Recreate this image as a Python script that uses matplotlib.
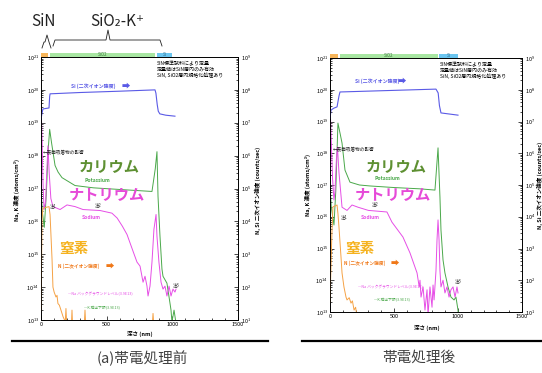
import matplotlib
matplotlib.use("Agg")
import matplotlib.pyplot as plt
import matplotlib.transforms as mtransforms
from matplotlib.lines import Line2D
from matplotlib.patches import Rectangle
from matplotlib.ticker import MultipleLocator, LogLocator
import numpy as np

plt.rcParams['font.family'] = ['Noto Sans CJK JP', 'DejaVu Sans']

# ---- data (depth in nm, values as log10) ----
# (a) before treatment
si_a_depth = [0, 8, 15, 61, 66, 69, 300, 600, 868, 875, 885, 893, 905, 950, 1020]
si_a_log = [7.1, 7.3, 7.42, 7.45, 7.8, 7.88, 7.92, 7.96, 8.0, 7.9, 7.55, 7.35, 7.27, 7.23, 7.2]

k_a_depth = [0, 10, 25, 40, 55, 66, 80, 107, 130, 160, 259, 400, 600, 845, 870, 883,
             891, 906, 921, 929, 959, 975, 990, 997, 1013, 1028]
k_a_log = [17.0, 16.3, 15.82, 16.8, 18.2, 18.8, 18.4, 17.7, 17.5, 17.33, 17.09, 17.02,
           16.97, 16.91, 17.6, 18.12, 16.76, 15.55, 14.55, 14.33, 14.12, 13.7, 13.3,
           12.94, 13.3, 12.9]

na_a_depth = [0, 8, 15, 23, 35, 45, 53, 62, 75, 91, 145, 198, 259, 320, 450, 540, 580,
              620, 655, 700, 731, 754, 777, 792, 807, 815, 830, 845, 860, 876, 883, 898,
              914, 929, 944, 959, 975, 990, 1005, 1020, 1028]
na_a_log = [19.6, 18.5, 17.2, 16.36, 16.6, 17.6, 18.3, 17.5, 16.7, 16.45, 16.36, 16.5,
            16.45, 16.36, 16.33, 16.25, 16.1, 15.85, 15.6, 15.1, 14.76, 14.64, 14.15,
            14.33, 14.03, 13.73, 14.03, 14.76, 15.76, 16.21, 15.55, 14.76, 14.15, 13.94,
            14.03, 13.73, 14.03, 13.73, 13.94, 13.85, 13.94]

n_a_depth = [0, 8, 15, 61, 69, 84, 91, 100, 114, 122, 129, 140, 152, 168, 185, 190, 195,
             200, 232, 236, 240, 330, 335, 340, 848, 853, 858]
n_a_log = [1.3, 4.1, 4.4, 4.45, 4.2, 2.85, 2.0, 1.85, 1.7, 1.75, 1.5, 1.45, 1.3, 1.1,
           0.95, 1.35, 0.95, 0.9, 0.9, 1.3, 0.9, 0.9, 1.3, 0.9, 0.9, 1.2, 0.9]

# (b) after treatment
si_b_depth = [0, 8, 30, 55, 70, 78, 828, 845, 855, 867, 1000]
si_b_log = [7.1, 7.36, 7.42, 7.46, 7.8, 7.93, 8.02, 7.9, 7.5, 7.27, 7.2]

k_b_depth = [0, 10, 31, 45, 62, 80, 94, 117, 156, 230, 312, 500, 700, 820, 844, 859,
             867, 883, 898, 922, 945, 969, 984, 1000, 1004]
k_b_log = [17.0, 16.3, 15.74, 16.8, 18.95, 18.6, 18.32, 17.47, 17.09, 17.0, 16.97,
           16.92, 16.88, 16.84, 18.17, 16.62, 15.58, 14.64, 14.23, 13.79, 13.47, 13.38,
           13.47, 13.06, 12.8]

na_b_depth = [0, 8, 20, 31, 39, 50, 58, 70, 94, 133, 172, 219, 300, 445, 484, 570, 625,
              680, 697, 703, 711, 727, 742, 758, 766, 781, 797, 805, 813, 828, 836, 844,
              852, 859, 867, 883, 898, 914, 930, 945, 961, 977, 992, 1000]
na_b_log = [19.6, 18.6, 17.2, 16.53, 16.8, 17.8, 18.2, 17.4, 16.3, 16.2, 16.37, 16.3,
            16.2, 16.15, 15.83, 15.36, 14.86, 14.23, 13.79, 14.0, 13.47, 13.79, 13.06,
            13.7, 12.9, 13.79, 13.15, 13.85, 13.38, 14.3, 15.27, 15.9, 15.27, 14.3,
            13.79, 14.0, 13.6, 13.79, 13.47, 13.7, 13.79, 13.47, 13.79, 13.6]

n_b_depth = [0, 15, 23, 55, 62, 70, 86, 94, 109, 125, 133, 150, 164, 175, 188, 200, 211, 225]
n_b_log = [1.3, 3.5, 4.31, 4.37, 4.1, 3.68, 2.73, 2.23, 1.79, 1.47, 1.38, 1.45, 1.28,
           1.35, 1.06, 1.15, 0.85, 0.8]

# layer bars (start, end in nm)
layers_a = [(0, 55, '#f7b55a', ''), (70, 870, '#a8e6a2', 'SiO2'), (885, 1000, '#6cc6f0', 'Si')]
layers_b = [(0, 62, '#f7b55a', ''), (78, 840, '#a8e6a2', 'SiO2'), (852, 1000, '#6cc6f0', 'Si')]

note_lines = "SiN標準試料により定量\n定量値はSiN層内のみ有効\nSiN, SiO2層内規格化処理あり"

W, H = 542, 373
fig = plt.figure(figsize=(W / 100, H / 100), dpi=100)


def fx(px):
    return px / W


def fy(py):
    return 1 - py / H


C_SI = '#5a5ae6'
C_K = '#4aa84a'
C_NA = '#e64ee6'
C_N = '#f5a245'


def make_panel(box, data, layers):
    x0, y0, x1, y1 = box
    ax = fig.add_axes([fx(x0), fy(y1), (x1 - x0) / W, (y1 - y0) / H])
    ax.set_xlim(0, 1500)
    ax.set_yscale('log')
    ax.set_ylim(1e13, 1e21)
    tw = ax.twinx()
    tw.set_yscale('log')
    tw.set_ylim(1e1, 1e9)
    (sd, sl), (kd, kl), (nd, nl), (Nd, Nl) = data
    ax.plot(kd, 10 ** np.array(kl), color=C_K, lw=0.7)
    ax.plot(nd, 10 ** np.array(nl), color=C_NA, lw=0.7)
    tw.plot(Nd, 10 ** np.array(Nl), color=C_N, lw=0.7)
    tw.plot(sd, 10 ** np.array(sl), color=C_SI, lw=0.8)
    for a in (ax, tw):
        a.tick_params(which='both', direction='in', labelsize=4, pad=1.5, width=0.5)
        a.tick_params(which='major', length=3)
        a.tick_params(which='minor', length=1.5)
        a.yaxis.set_major_locator(LogLocator(base=10, numticks=12))
        a.yaxis.set_minor_locator(LogLocator(base=10, subs=np.arange(2, 10), numticks=12))
        for s in a.spines.values():
            s.set_linewidth(0.6)
    tw.tick_params(axis='y', pad=2.5)
    ax.xaxis.set_major_locator(MultipleLocator(500))
    ax.xaxis.set_minor_locator(MultipleLocator(100))
    tr = mtransforms.blended_transform_factory(ax.transData, ax.transAxes)
    hgt = 4.5 / (y1 - y0)
    for a0, a1, col, lab in layers:
        ax.add_patch(Rectangle((a0, 1.0), a1 - a0, hgt, transform=tr, color=col,
                               clip_on=False, lw=0))
        if lab:
            ax.text((a0 + a1) / 2, 1.0 + hgt / 2, lab, transform=tr, fontsize=3.2,
                    ha='center', va='center', color='#2f6f8f' if lab == 'Si' else '#3a7a3a')
    return ax, tw


ax_a, tw_a = make_panel((41, 57, 238, 320),
                        [(si_a_depth, si_a_log), (k_a_depth, k_a_log),
                         (na_a_depth, na_a_log), (n_a_depth, n_a_log)], layers_a)
ax_b, tw_b = make_panel((330, 58, 522, 312),
                        [(si_b_depth, si_b_log), (k_b_depth, k_b_log),
                         (na_b_depth, na_b_log), (n_b_depth, n_b_log)], layers_b)


def txt(px, py, s, **kw):
    fig.text(fx(px), fy(py), s, **kw)


def panel_texts(p):
    # p: dict of pixel positions
    txt(p['note'][0], p['note'][1], note_lines, fontsize=3.6, va='top', ha='left',
        linespacing=1.15)
    txt(p['si'][0], p['si'][1], "Si (二次イオン強度)", fontsize=3.6, color=C_SI,
        va='center', fontweight='bold')
    txt(p['si'][2], p['si'][1], "➡", fontsize=6, color=C_SI, va='center')
    txt(*p['kana_k'], "カリウム", fontsize=11, color='#5e9032', ha='center',
        va='center', fontweight='bold')
    txt(*p['pot'], "Potassium", fontsize=3.6, color=C_K, ha='center', va='center',
        fontweight='bold')
    txt(*p['kana_na'], "ナトリウム", fontsize=11, color='#e64ad8', ha='center',
        va='center', fontweight='bold')
    txt(*p['sod'], "Sodium", fontsize=3.6, color=C_NA, ha='center', va='center',
        fontweight='bold')
    txt(*p['kana_n'], "窒素", fontsize=10.5, color='#f5b21e', ha='center',
        va='center', fontweight='bold')
    txt(p['n'][0], p['n'][1], "N (二次イオン強度)", fontsize=3.4, color='#f07818',
        va='center', fontweight='bold')
    txt(p['n'][2], p['n'][1], "➡", fontsize=6, color='#f07818', va='center')
    txt(p['nabg'][0], p['nabg'][1], "—Na バックグラウンドレベル(3.9E13)", fontsize=2.7,
        color=C_NA, va='center')
    txt(p['kdl'][0], p['kdl'][1], "—K 検出下限(3.9E13)", fontsize=2.7, color=C_K,
        va='center')
    txt(p['ads'][0], p['ads'][1], "←表面吸着物の影響", fontsize=3.3, color='#222222',
        va='center')
    txt(*p['c1'], "注1", fontsize=3.2, color='#333333', va='center')
    txt(*p['c2'], "注2", fontsize=3.2, color='#333333', va='center')
    txt(*p['c3'], "注3", fontsize=3.2, color='#333333', va='center')
    txt(p['yl'][0], p['yl'][1], "Na, K 濃度 (atoms/cm³)", fontsize=4, rotation=90,
        ha='center', va='center', fontweight='bold')
    txt(p['yr'][0], p['yr'][1], "N, Si 二次イオン強度 (counts/sec)", fontsize=4,
        rotation=90, ha='center', va='center', fontweight='bold')
    txt(p['xl'][0], p['xl'][1], "深さ (nm)", fontsize=4, ha='center', va='center',
        fontweight='bold')


panel_texts(dict(note=(157, 61), si=(71, 86, 122), kana_k=(109, 167), pot=(97, 181),
                 kana_na=(107, 195), sod=(91, 217), kana_n=(74, 248),
                 n=(58, 266, 106), nabg=(68, 294), kdl=(84, 308), ads=(43, 153),
                 c1=(50, 206), c2=(95, 205), c3=(173, 285), yl=(17, 190),
                 yr=(258, 190), xl=(140, 334)))
panel_texts(dict(note=(440, 62), si=(355, 81, 398), kana_k=(396, 167), pot=(387, 179),
                 kana_na=(393, 195), sod=(370, 217), kana_n=(360, 248),
                 n=(344, 263, 391), nabg=(358, 287), kdl=(374, 300), ads=(333, 150),
                 c1=(341, 217), c2=(372, 204), c3=(455, 281), yl=(308, 185),
                 yr=(540, 185), xl=(427, 328)))

# layer annotations above panel (a)
txt(43, 22, "SiN", fontsize=11, ha='center', va='center', color='#222222')
txt(117, 22, "SiO₂-K⁺", fontsize=11, ha='center', va='center', color='#222222')


def brace(xa, xb, xm, ytop, ystem):
    xs = [xa, xa + 2, xm - 2, xm, xm + 2, xb - 2, xb]
    ys = [ytop + 6, ytop, ytop, ystem, ytop, ytop, ytop + 6]
    fig.add_artist(Line2D([fx(v) for v in xs], [fy(v) for v in ys],
                          transform=fig.transFigure, color='#222222', lw=0.6))


brace(42, 51, 47, 42, 35)
brace(53, 162, 108, 40, 30)

# horizontal rules and captions
fig.add_artist(Line2D([fx(12), fx(268)], [fy(341), fy(341)], transform=fig.transFigure,
                      color='black', lw=1.6))
fig.add_artist(Line2D([fx(302), fx(542)], [fy(341), fy(341)], transform=fig.transFigure,
                      color='black', lw=1.6))
txt(142, 358, "(a)帯電処理前", fontsize=10.5, ha='center', va='center', color='#404040')
txt(419, 358, "帯電処理後", fontsize=10.5, ha='center', va='center', color='#404040')

fig.savefig("out.png", dpi=100)
